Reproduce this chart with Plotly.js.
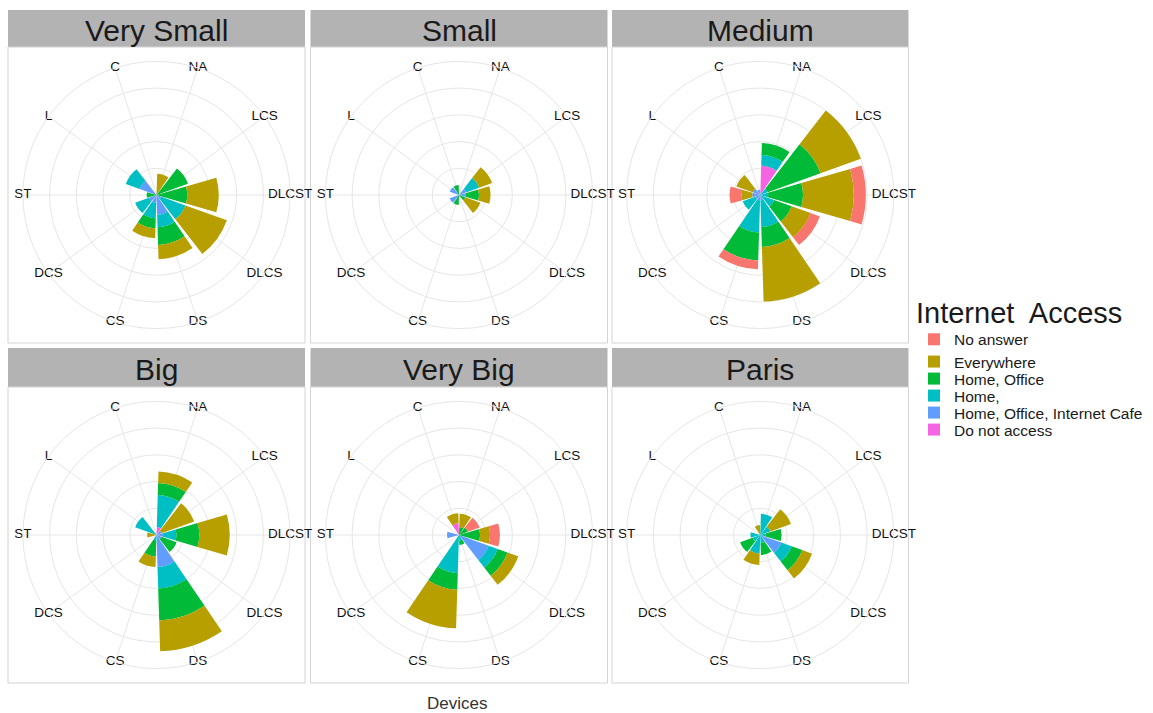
<!DOCTYPE html>
<html><head><meta charset="utf-8">
<script src="https://cdn.plot.ly/plotly-3.0.1.min.js"></script>
<style>html,body{margin:0;padding:0;background:#fff;} #chart{width:1153px;height:713px;}</style>
</head><body><div id="chart"></div>
<script>
// ---- data ----
const categories = ['NA','LCS','DLCST','DLCS','DS','CS','DCS','ST','L','C'];
const panels = ['Very Small','Small','Medium','Big','Very Big','Paris'];
const seriesNames = ['No answer','Everywhere','Home, Office','Home,','Home, Office, Internet Cafe','Do not access'];
const seriesColors = ['#F8766D','#B79F00','#00BA38','#00BFC4','#619CFF','#F564E3'];
// rows = panels (Very Small, Small, Medium, Big, Very Big, Paris); columns = categories
const noAnswer = [
  [0,0,0,0,0,0,0,0,0,0],
  [0,0,0,0,0,0,0,0,0,0],
  [0,0,4.5,3.7,0,3.3,0,4.5,0,0],
  [0,0,0,0,0,0,0,0,0,0],
  [0,4.7,3.7,0,0,0,0,0,0,0],
  [0,0,0,0,0,0,0,0,0,0]
];
const everywhere = [
  [8,0,11.8,16.5,5.3,3.7,0,0,0,0],
  [0,5.2,4.3,6,0,0,0,0,0,0],
  [0,16,19,7.5,20.4,0,0,4,6.5,0],
  [4.3,13,11.4,0,11.5,4,0,3.5,0,0],
  [5,0,3.7,4.3,0,14.4,0,0,0,3.7],
  [0,8.2,0,3.9,0,4.3,0,0,0,3.7]
];
const homeOffice = [
  [0,12.5,11.5,0,6.6,3.8,0,3.7,0,0],
  [0,0,5,2.5,0,3.7,0,0,0,3.7],
  [4.5,21,13,7,7.5,10.5,0,0,0,0],
  [4.5,0,8.5,6,12,6,0,0,0,0],
  [3,3.5,7.9,3.9,1.7,6.2,0,0,0,0],
  [0,0,6,4.2,4.5,0,5,0,0,0]
];
const home = [
  [0,0,0,9.5,4.6,5.7,5.5,0,5.5,0],
  [0,5,0,0,0,0,0,0,0,0],
  [4,3,3,5.5,10,12,5,0,0,0],
  [12,0,5,0,8,2,0,0,8.5,0],
  [0,0,0,3.6,2,14.3,0,0,0,0],
  [8,4,2,4.1,3,6.9,3,3.7,0,0]
];
const homeOfficeCafe = [
  [0,0,0,2,7.5,3,3,0,6.7,0],
  [0,3,2.5,0,0,0,3.7,0,3.7,0],
  [0,0,0,0,2,2,2,3,3,2],
  [0,2,2.5,2,12,0,0,0,0,0],
  [0,0,0,11.8,0,0,0,4.5,0,0],
  [0,0,0,8.4,0,0,0,0,0,0]
];
const doNotAccess = [
  [0,0,0,0,0,0,0,0,0,0],
  [0,0,0,0,0,0,0,0,0,0],
  [11,0,0,0,0,0,0,0,0,0],
  [3,0,0,0,0,0,0,0,0,0],
  [0,0,0,0,0,0,0,0,0,4.4],
  [0,0,0,0,0,0,0,0,0,0]
];
const radialGrid = [10,20,30,40];
const radialMax = 50;
const legendTitle = 'Internet  Access';
const xTitle = 'Devices';

// ---- layout geometry (pixels) ----
const W = 1153, H = 713;
const colBounds = [[8,305],[310.5,607.5],[612,908.5]];
const rowBounds = [{strip:[10,47], panel:[47,343]}, {strip:[348,387], panel:[387,683]}];
const gridR = 133.6;     // outer circle radius (theta labels sit on it)
const FONT = 'Liberation Sans, Arial, sans-serif';
const gridColor = '#E6E6E6';

const seriesData = [noAnswer, everywhere, homeOffice, home, homeOfficeCafe, doNotAccess];
const legendIds = ['legend','legend2','legend3','legend4','legend5','legend6'];

const traces = [];
const layout = {
  width: W, height: H, margin:{l:0,r:0,t:0,b:0},
  paper_bgcolor:'#fff', plot_bgcolor:'#fff',
  font:{family:FONT, color:'#1a1a1a'},
  shapes:[], annotations:[], hovermode:false
};

function px2x(x){return x/W;}
function px2y(y){return (H-y)/H;}

panels.forEach((pname, p) => {
  const col = p % 3, row = Math.floor(p/3);
  const [x0,x1] = colBounds[col];
  const rb = rowBounds[row];
  const cx = (x0+x1)/2, cy = (rb.panel[0]+rb.panel[1])/2;
  const gid = p===0 ? 'polar' : 'polar'+(p+1);
  // strip
  layout.shapes.push({type:'rect', xref:'paper', yref:'paper', layer:'below',
    x0:px2x(x0), x1:px2x(x1), y0:px2y(rb.strip[1]), y1:px2y(rb.strip[0]),
    fillcolor:'#B3B3B3', line:{width:0}});
  // panel border
  layout.shapes.push({type:'rect', xref:'paper', yref:'paper', layer:'below',
    x0:px2x(x0), x1:px2x(x1), y0:px2y(rb.panel[1]), y1:px2y(rb.panel[0]),
    fillcolor:'rgba(0,0,0,0)', line:{width:1, color:'#D4D4D4'}});
  layout.annotations.push({xref:'paper', yref:'paper', x:px2x(cx), y:px2y((rb.strip[0]+rb.strip[1])/2 + 1.5),
    text:pname, showarrow:false, xanchor:'center', yanchor:'middle',
    font:{size:30, color:'#1a1a1a', family:FONT}});
  layout[gid] = {
    domain:{x:[px2x(cx-gridR), px2x(cx+gridR)], y:[px2y(cy+gridR), px2y(cy-gridR)]},
    bgcolor:'rgba(0,0,0,0)', barmode:'stack', bargap:0.1,
    radialaxis:{range:[0,radialMax], tickvals:radialGrid, showticklabels:false, ticks:'',
      showline:false, gridcolor:gridColor, gridwidth:1},
    angularaxis:{type:'category', categoryorder:'array', categoryarray:categories,
      rotation:72, direction:'clockwise', showticklabels:false, ticks:'',
      showline:true, linecolor:gridColor, linewidth:1, gridcolor:gridColor, gridwidth:1}
  };
  // bars: innermost series first
  for (let s = seriesData.length-1; s >= 0; s--) {
    traces.push({type:'barpolar', subplot:gid, r:seriesData[s][p], theta:categories,
      name:seriesNames[s], marker:{color:seriesColors[s], line:{width:0}},
      showlegend:p===0, legend:legendIds[s], legendgroup:seriesNames[s], hoverinfo:'skip'});
  }
  // category labels centred on the outer circle (as in ggplot coord_polar)
  traces.push({type:'scatterpolar', subplot:gid, r:categories.map(()=>radialMax), theta:categories,
    mode:'text', text:categories, textposition:'middle center', cliponaxis:false,
    textfont:{size:13.5, color:'#111', family:FONT}, showlegend:false, hoverinfo:'skip'});
});

// legends
const legX = px2x(914);
const itemY0 = 345, itemStep = 17;
legendIds.forEach((id, i) => {
  const L = {x:legX, xanchor:'left', bgcolor:'rgba(0,0,0,0)', borderwidth:0,
    font:{size:15.5, color:'#1a1a1a', family:FONT}, itemclick:false, itemdoubleclick:false};
  if (i === 0) {
    L.title = {text:legendTitle, font:{size:29, color:'#1a1a1a', family:FONT}};
    L.y = px2y(itemY0 + 11); L.yanchor = 'bottom';
  } else {
    L.y = px2y(itemY0 + i*itemStep); L.yanchor = 'middle';
  }
  layout[id] = L;
});

layout.annotations.push({xref:'paper', yref:'paper', x:px2x(457), y:px2y(703), text:xTitle,
  showarrow:false, xanchor:'center', yanchor:'middle', font:{size:17, color:'#333', family:FONT}});

Plotly.newPlot('chart', traces, layout, {displayModeBar:false, staticPlot:true});
</script>
</body></html>
